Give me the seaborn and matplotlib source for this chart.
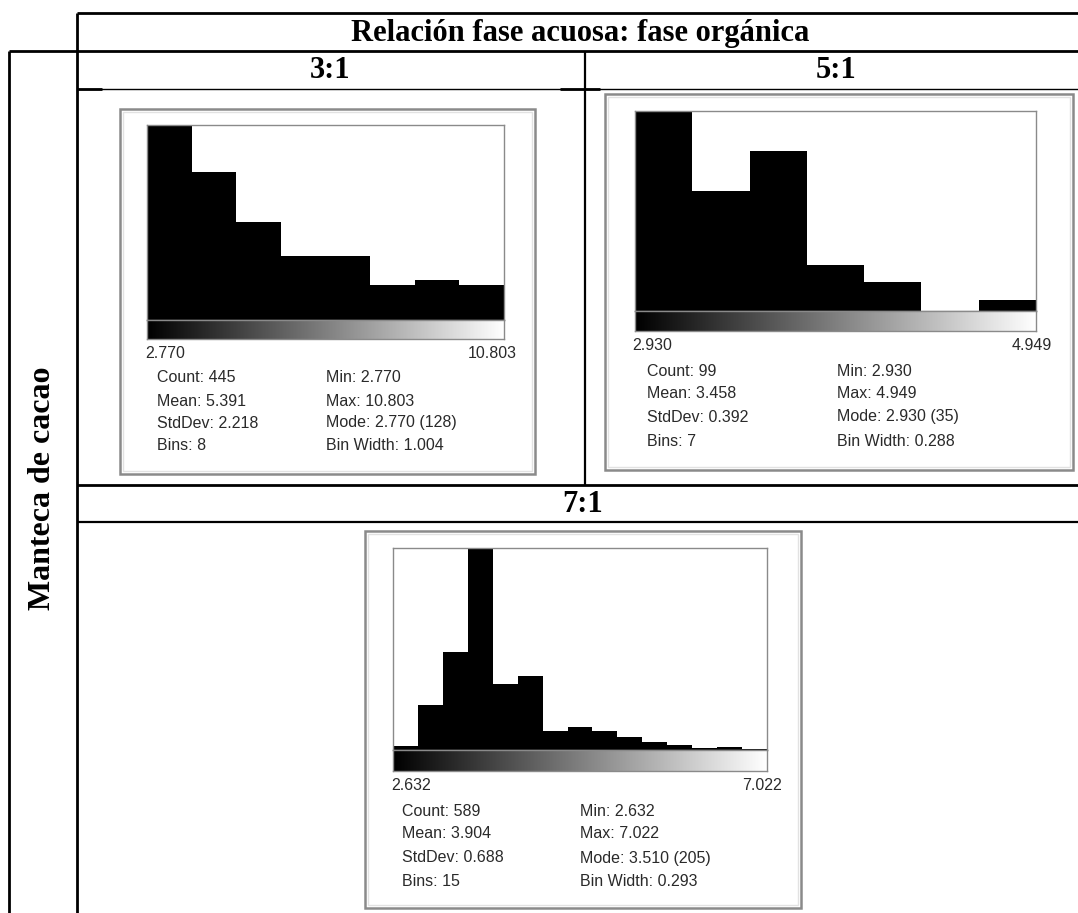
import numpy as np
import pandas as pd
import matplotlib
matplotlib.use("Agg")
import matplotlib.pyplot as plt
from matplotlib.patches import Rectangle
import seaborn as sns

# Particle-size histograms (ImageJ output) for cocoa butter emulsions,
# one per aqueous:organic phase ratio.
ratios = ["3:1", "5:1", "7:1"]
counts_3_1 = [128, 97, 64, 42, 42, 23, 26, 23]
counts_5_1 = [35, 21, 28, 8, 5, 0, 2]
counts_7_1 = [4, 46, 99, 205, 67, 75, 19, 23, 19, 13, 8, 5, 2, 3, 1]
min_values = [2.770, 2.930, 2.632]
max_values = [10.803, 4.949, 7.022]
mean_values = [5.391, 3.458, 3.904]
std_values = [2.218, 0.392, 0.688]

header_title = "Relación fase acuosa: fase orgánica"
row_title = "Manteca de cacao"

W, H = 1078, 913
sns.set_style("white")
plt.rcParams["font.family"] = ["Liberation Sans", "DejaVu Sans"]

fig = plt.figure(figsize=(W / 100, H / 100), dpi=100)
fig.patch.set_facecolor("white")

# Page-level axes in pixel units (y downwards) for the table grid and labels
bg = fig.add_axes([0, 0, 1, 1])
bg.set_xlim(0, W)
bg.set_ylim(H, 0)
bg.axis("off")


def hline(y, x0, x1, lw):
    bg.plot([x0, x1], [y, y], color="black", lw=lw, solid_capstyle="butt")


def vline(x, y0, y1, lw):
    bg.plot([x, x], [y0, y1], color="black", lw=lw, solid_capstyle="butt")


def px_axes(x0, y0, x1, y1):
    return fig.add_axes([x0 / W, 1 - y1 / H, (x1 - x0) / W, (y1 - y0) / H])


# Table grid
hline(13, 77, W, 2.0)
hline(51, 9, W, 2.0)
hline(89, 77, W, 1.0)
hline(89, 77, 102, 2.0)
hline(89, 560, 600, 2.0)
hline(485, 77, W, 2.0)
hline(522, 77, W, 1.6)
vline(9, 51, H, 2.0)
vline(77, 13, H, 2.0)
vline(585, 51, 485, 1.6)

serif = dict(family="Liberation Serif", weight="bold", color="black")
bg.text(580, 33, header_title, ha="center", va="center", fontsize=22, **serif)
bg.text(330, 70, ratios[0], ha="center", va="center", fontsize=22, **serif)
bg.text(836, 70, ratios[1], ha="center", va="center", fontsize=22, **serif)
bg.text(583, 504, ratios[2], ha="center", va="center", fontsize=22, **serif)
bg.text(43, 488, row_title, ha="center", va="center", rotation=90,
        fontsize=23, **serif)

# Placement of each histogram window on the page (pixels)
panels = [
    dict(frame=(120, 109, 535, 474), plot=(147, 125, 504, 320), grad=339,
         lab_y=353, lab_l=145, lab_r=517, col1=157, col2=326,
         rows=(378, 401, 423, 445)),
    dict(frame=(605, 94, 1073, 470), plot=(635, 111, 1036, 311), grad=331,
         lab_y=345, lab_l=632, lab_r=1052, col1=647, col2=837,
         rows=(371, 394, 417, 441)),
    dict(frame=(365, 531, 801, 908), plot=(393, 548, 767, 750), grad=771,
         lab_y=785, lab_l=391, lab_r=782, col1=402, col2=580,
         rows=(811, 834, 858, 882)),
]

all_counts = [counts_3_1, counts_5_1, counts_7_1]
frame_gray = "#8a8a8a"
text_gray = "#2a2a2a"
stat_font = dict(family="Liberation Sans", fontsize=11.5, color=text_gray)

for counts, vmin, vmax, mean, std, p in zip(all_counts, min_values, max_values,
                                            mean_values, std_values, panels):
    counts = np.asarray(counts, dtype=float)
    nbins = len(counts)
    edges = np.linspace(vmin, vmax, nbins + 1)
    bin_width = (vmax - vmin) / nbins
    imode = int(np.argmax(counts))
    hist_df = pd.DataFrame({"value": 0.5 * (edges[:-1] + edges[1:]),
                            "n": counts})

    # Window frame
    fx0, fy0, fx1, fy1 = p["frame"]
    bg.add_patch(Rectangle((fx0, fy0), fx1 - fx0, fy1 - fy0, facecolor="white",
                           edgecolor=frame_gray, lw=1.8, zorder=1))
    bg.add_patch(Rectangle((fx0 + 3, fy0 + 3), fx1 - fx0 - 6, fy1 - fy0 - 6,
                           facecolor="none", edgecolor="#e2e2e2", lw=1.0,
                           zorder=1))

    # Histogram bars
    x0, y0, x1, y1 = p["plot"]
    ax = px_axes(x0, y0, x1, y1)
    sns.histplot(data=hist_df, x="value", weights="n", bins=list(edges), ax=ax,
                 color="black", alpha=1, linewidth=0, edgecolor="black")
    ax.set_xlim(vmin, vmax)
    ax.set_ylim(0, counts.max())
    ax.set_xticks([])
    ax.set_yticks([])
    ax.set_xlabel("")
    ax.set_ylabel("")
    ax.set_facecolor("white")
    for s in ax.spines.values():
        s.set_color(frame_gray)
        s.set_linewidth(1.0)

    # Grey-level ramp under the histogram
    axg = px_axes(x0, y1, x1, p["grad"])
    axg.imshow(np.linspace(0, 1, 256)[None, :], cmap="gray", aspect="auto",
               extent=[vmin, vmax, 0, 1], interpolation="bilinear")
    axg.set_xticks([])
    axg.set_yticks([])
    for s in axg.spines.values():
        s.set_color(frame_gray)
        s.set_linewidth(1.0)

    bg.text(p["lab_l"], p["lab_y"], f"{vmin:.3f}", ha="left", va="center",
            **stat_font)
    bg.text(p["lab_r"], p["lab_y"], f"{vmax:.3f}", ha="right", va="center",
            **stat_font)

    left = [f"Count: {int(counts.sum())}", f"Mean: {mean:.3f}",
            f"StdDev: {std:.3f}", f"Bins: {nbins}"]
    right = [f"Min: {vmin:.3f}", f"Max: {vmax:.3f}",
             f"Mode: {edges[imode]:.3f} ({int(counts[imode])})",
             f"Bin Width: {bin_width:.3f}"]
    for y, l, r in zip(p["rows"], left, right):
        bg.text(p["col1"], y, l, ha="left", va="center", **stat_font)
        bg.text(p["col2"], y, r, ha="left", va="center", **stat_font)

fig.savefig("out.png", dpi=100, facecolor="white")
